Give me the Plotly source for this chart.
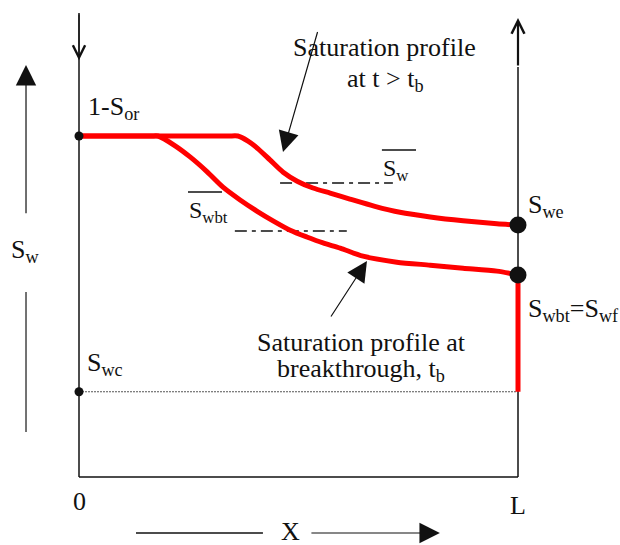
import plotly.graph_objects as go

# Schematic water saturation profiles along a core of length L (x as fraction of L)
x_bt = [0.0, 0.090, 0.165, 0.180, 0.219, 0.253, 0.292, 0.328, 0.367, 0.405, 0.442, 0.481,
        0.519, 0.556, 0.595, 0.647, 0.724, 0.800, 0.875, 0.952, 1.0]
sw_bt = [0.800, 0.800, 0.800, 0.800, 0.777, 0.751, 0.716, 0.680, 0.650, 0.624, 0.601, 0.579,
         0.563, 0.549, 0.537, 0.518, 0.504, 0.497, 0.490, 0.483, 0.474]

x_late = [0.0, 0.180, 0.340, 0.362, 0.385, 0.408, 0.435, 0.465, 0.497, 0.533, 0.572, 0.617,
          0.674, 0.731, 0.800, 0.875, 0.952, 1.0]
sw_late = [0.800, 0.800, 0.800, 0.800, 0.788, 0.770, 0.744, 0.715, 0.694, 0.678, 0.666, 0.652,
           0.635, 0.621, 0.610, 0.601, 0.594, 0.591]

sw_max = 0.8      # 1 - Sor
swc = 0.2         # connate water
swf = 0.474       # front saturation = Swbt
swe = 0.591       # outlet saturation at t > tb
sw_avg_bt = 0.577
sw_avg_late = 0.690
avg_bt_x = [0.355, 0.610]
avg_late_x = [0.458, 0.715]

FONT = "Liberation Serif"
RED = "#ff0000"
INK = "#111111"

fig = go.Figure()

# dotted Swc level
fig.add_trace(go.Scatter(x=[0, 1], y=[swc, swc], mode="lines",
                         line=dict(color="#555", width=1, dash="2px,1px")))
# average saturation dash-dot lines
fig.add_trace(go.Scatter(x=avg_bt_x, y=[sw_avg_bt] * 2, mode="lines",
                         line=dict(color=INK, width=1.5, dash="12px,5px,4px,5px")))
fig.add_trace(go.Scatter(x=avg_late_x, y=[sw_avg_late] * 2, mode="lines",
                         line=dict(color=INK, width=1.5, dash="12px,5px,4px,5px")))
# profiles
fig.add_trace(go.Scatter(x=x_bt, y=sw_bt, mode="lines",
                         line=dict(color=RED, width=5, shape="spline", smoothing=0.7)))
fig.add_trace(go.Scatter(x=x_late, y=sw_late, mode="lines",
                         line=dict(color=RED, width=5, shape="spline", smoothing=0.7)))
fig.add_trace(go.Scatter(x=[1, 1], y=[swf, swc], mode="lines",
                         line=dict(color=RED, width=5)))
# points
fig.add_trace(go.Scatter(x=[0, 0], y=[sw_max, swc], mode="markers",
                         marker=dict(color=INK, size=9)))
fig.add_trace(go.Scatter(x=[1, 1], y=[swe, swf], mode="markers",
                         marker=dict(color=INK, size=17)))

shapes = [
    dict(type="line", x0=0, x1=0, y0=0, y1=1.0886, line=dict(color=INK, width=1.5), layer="below"),
    dict(type="line", x0=0, x1=1, y0=0, y1=0, line=dict(color=INK, width=1.5), layer="below"),
    dict(type="line", x0=1, x1=1, y0=0, y1=0.962, line=dict(color=INK, width=1.5), layer="below"),
    # lower part of the Sw arrow
    dict(type="line", x0=-0.1207, x1=-0.1207, y0=0.1056, y1=0.434, line=dict(color="#444", width=1.5)),
    # left part of the x arrow
    dict(type="line", x0=0.1298, x1=0.419, y0=-0.1314, y1=-0.1314, line=dict(color=INK, width=1.5)),
    # overlines for averages
    dict(type="line", x0=0.2483, x1=0.3257, y0=0.6686, y1=0.6686, line=dict(color=INK, width=1.5)),
    dict(type="line", x0=0.690, x1=0.7677, y0=0.7672, y1=0.7672, line=dict(color=INK, width=1.5)),
]


def arrow(x, y, ax, ay, head=2, size=3.4, width=1.2):
    return dict(x=x, y=y, ax=ax, ay=ay, xref="x", yref="y", axref="x", ayref="y",
                text="", showarrow=True, arrowhead=head, arrowsize=size,
                arrowwidth=width, arrowcolor=INK, standoff=0)


def label(text, x, y, xanchor="left", size=26):
    return dict(x=x, y=y, xref="x", yref="y", text=text, showarrow=False,
                xanchor=xanchor, yanchor="middle",
                font=dict(family=FONT, size=size, color=INK))


annotations = [
    arrow(0.4647, 0.7625, 0.5444, 1.0476),
    arrow(0.656, 0.5067, 0.5718, 0.373),
    arrow(-0.1207, 0.9666, -0.1207, 0.615),
    arrow(0.822, -0.1314, 0.526, -0.1314),
    arrow(0, 0.978, 0, 1.0886, head=5, size=2, width=1.2),
    arrow(1, 1.0768, 1, 0.962, head=5, size=1.15, width=2.2),
    label("Saturation profile", 0.697, 1.0088, "center"),
    label("at t &gt; t<sub>b</sub>", 0.697, 0.9314, "center"),
    label("Saturation profile at", 0.6424, 0.3167, "center"),
    label("breakthrough, t<sub>b</sub>", 0.6424, 0.251, "center"),
    label("1-S<sub>or</sub>", 0.0159, 0.8657),
    label("S<sub>w</sub>", -0.1595, 0.530),
    label("S<sub>wc</sub>", 0.0137, 0.2651),
    label("S<sub>wbt</sub>", 0.246, 0.6217, size=24),
    label("S<sub>w</sub>", 0.688, 0.7202, size=24),
    label("S<sub>we</sub>", 1.0182, 0.6358),
    label("S<sub>wbt</sub>=S<sub>wf</sub>", 1.0182, 0.3918),
    label("0", 0, -0.058, "center"),
    label("L", 1, -0.0657, "center"),
    label("X", 0.4829, -0.1290, "center"),
]

fig.update_layout(
    width=620, height=545,
    margin=dict(l=0, r=0, t=0, b=0),
    paper_bgcolor="white", plot_bgcolor="white",
    showlegend=False,
    xaxis=dict(range=[-0.17995, 1.23235], visible=False, fixedrange=True),
    yaxis=dict(range=[-0.15953, 1.11906], visible=False, fixedrange=True),
    shapes=shapes,
    annotations=annotations,
)

# the page's default body margin would push the figure 8px down and right
fig.write_html("out.html", config={"displayModeBar": False},
               post_script="document.body.style.margin='0';")
